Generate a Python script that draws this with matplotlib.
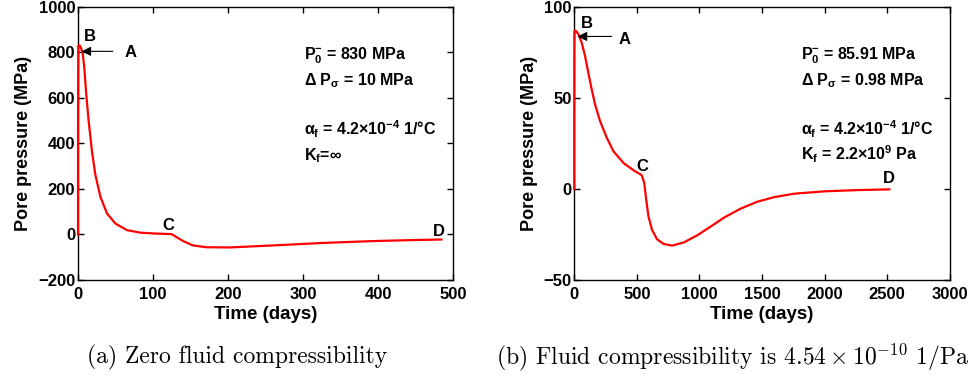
import matplotlib
matplotlib.use('Agg')
import matplotlib.pyplot as plt

# (a) zero fluid compressibility
t_a = [0, 0, 0.4, 1, 3.1, 6.3, 8.5, 10.7, 14.3, 18.7, 23.2, 29.9, 38.7, 49.9, 65.3, 83, 104, 122,
       124.5, 132, 140, 153, 171, 202, 260, 327, 393, 440, 484]
p_a = [0, 400, 828, 832, 828, 796, 729, 627, 495, 363, 261, 165, 92, 48, 19, 8, 4, 2,
       2, -13, -29, -48, -56, -57, -48, -37, -29, -25, -22]

# (b) fluid compressibility 4.54e-10 1/Pa
t_b = [0, 0, 1, 6, 14, 32, 59, 86, 112, 139, 166, 206, 260, 313, 393, 473, 532, 540,
       559, 575, 593, 621, 661, 714, 781, 874, 982, 1115, 1195, 1329, 1463, 1596, 1756, 1997, 2265, 2518]
p_b = [0, 40, 86.5, 87, 86.8, 85.1, 80.5, 73.1, 64, 54.8, 46.5, 37.3, 28.1, 20.7, 14.3, 10.3, 7.9, 7.4,
       3.3, -5.9, -15.1, -22.4, -27.6, -30.2, -31.1, -29.4, -25.5, -19.5, -15.8, -10.8, -7.0, -4.5, -2.6, -1.3, -0.6, -0.2]

plt.rcParams['font.family'] = ['Liberation Sans', 'DejaVu Sans']
plt.rcParams['font.weight'] = 'bold'
plt.rcParams['mathtext.fontset'] = 'custom'
plt.rcParams['mathtext.rm'] = 'Liberation Sans:bold'
plt.rcParams['mathtext.it'] = 'Liberation Sans:bold'
plt.rcParams['mathtext.bf'] = 'Liberation Sans:bold'

fig = plt.figure(figsize=(9.75, 3.87), dpi=100)
ax1 = fig.add_axes([0.080, 0.2765, 0.385, 0.7055])
ax2 = fig.add_axes([0.589, 0.2765, 0.385, 0.7055])

ax1.plot(t_a, p_a, color='red', lw=1.6, zorder=3, clip_on=False)
ax2.plot(t_b, p_b, color='red', lw=1.6, zorder=3, clip_on=False)

ax1.set_xlim(0, 500)
ax1.set_ylim(-200, 1000)
ax1.set_xticks([0, 100, 200, 300, 400, 500])
ax1.set_yticks([-200, 0, 200, 400, 600, 800, 1000])
ax2.set_xlim(0, 3000)
ax2.set_ylim(-50, 100)
ax2.set_xticks([0, 500, 1000, 1500, 2000, 2500, 3000])
ax2.set_yticks([-50, 0, 50, 100])

for ax in (ax1, ax2):
    ax.tick_params(direction='in', top=True, right=True, length=4, width=1,
                   labelsize=12)
    ax.tick_params(axis='x', pad=5)
    ax.tick_params(axis='y', pad=2)
    for s in ax.spines.values():
        s.set_linewidth(1)
    ax.set_xlabel('Time (days)', fontsize=13.5, fontweight='bold', labelpad=3)
    ax.set_ylabel('Pore pressure (MPa)', fontsize=13, fontweight='bold', labelpad=4)

# point labels and arrows
arr = dict(arrowstyle='-|>', color='black', lw=0.8, mutation_scale=14)
ax1.annotate('', xy=(1, 805), xytext=(50, 805), arrowprops=arr)
ax1.text(70, 801, 'A', fontsize=12, ha='center', va='center')
ax1.text(16, 870, 'B', fontsize=12, ha='center', va='center')
ax1.text(120, 38, 'C', fontsize=12, ha='center', va='center')
ax1.text(481, 13, 'D', fontsize=12, ha='center', va='center')

ax2.annotate('', xy=(5, 83.8), xytext=(321, 83.8), arrowprops=arr)
ax2.text(401, 81.9, 'A', fontsize=12, ha='center', va='center')
ax2.text(98, 91, 'B', fontsize=12, ha='center', va='center')
ax2.text(543, 12.3, 'C', fontsize=12, ha='center', va='center')
ax2.text(2518, 5.6, 'D', fontsize=12, ha='center', va='center')

lines_a = [r'P$_0^{-}$ = 830 MPa', r'Δ P$_σ$ = 10 MPa',
           r'α$_f$ = 4.2×10$^{-4}$ 1/°C', r'K$_f$=∞']
lines_b = [r'P$_0^{-}$ = 85.91 MPa', r'Δ P$_σ$ = 0.98 MPa',
           r'α$_f$ = 4.2×10$^{-4}$ 1/°C', r'K$_f$ = 2.2×10$^9$ Pa']
ys = [0.806, 0.714, 0.529, 0.44]
for ax, lines in ((ax1, lines_a), (ax2, lines_b)):
    for s, y in zip(lines, ys):
        ax.text(0.603, y, s, transform=ax.transAxes, fontsize=11.5,
                ha='left', va='baseline')

# captions
fig.text(0.243, 0.0775, '(a) Zero fluid compressibility', fontsize=17,
         family='cmr10', fontweight='normal', ha='center', va='center')
fig.text(0.751, 0.0775, r'(b) Fluid compressibility is $4.54\times10^{-10}$ 1/Pa',
         fontsize=17, family='cmr10', fontweight='normal', math_fontfamily='cm',
         ha='center', va='center')

fig.savefig('out.png', dpi=100)
